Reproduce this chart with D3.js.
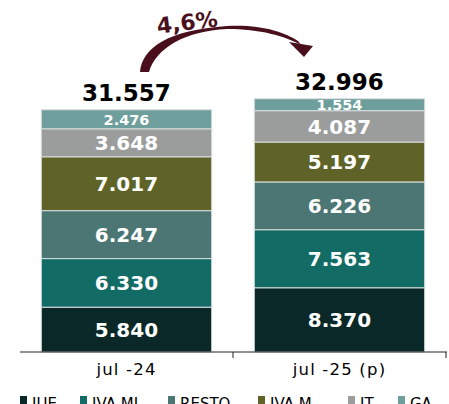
<!DOCTYPE html>
<html><head><meta charset="utf-8">
<script src="https://cdn.jsdelivr.net/npm/d3@7/dist/d3.min.js"></script>
<style>body{margin:0;background:#fff}svg{display:block}</style>
</head><body>
<svg id="c" width="449" height="404"></svg>
<script>
const categories = ["jul -24", "jul -25 (p)"];
const seriesNames = ["IUE", "IVA MI", "RESTO", "IVA M", "IT", "GA"];
const IUE   = [5840, 8370];
const IVA_MI = [6330, 7563];
const RESTO = [6247, 6226];
const IVA_M = [7017, 5197];
const IT    = [3648, 4087];
const GA    = [2476, 1554];
const totals = [31557, 32996];
const growthLabel = "4,6%";
const colors = ["#0a2828", "#136b66", "#4b7673", "#5f6327", "#9b9d9d", "#6f9f9c"];

const series = [IUE, IVA_MI, RESTO, IVA_M, IT, GA];
const fmt = v => d3.format(",")(v).replace(/,/g, ".");

const svg = d3.select("#c");
const x = d3.scaleBand().domain(categories).range([20, 446]).paddingInner(0.2).paddingOuter(0.1);
const y = d3.scaleLinear().domain([0, 40000]).range([352, 45]);

const rows = categories.map((c, i) => {
  const r = {cat: c};
  seriesNames.forEach((s, k) => r[s] = series[k][i]);
  return r;
});
const stacked = d3.stack().keys(seriesNames)(rows);

const font = "'DejaVu Sans', Verdana, sans-serif";

stacked.forEach((layer, k) => {
  const g = svg.append("g");
  g.selectAll("rect").data(layer).join("rect")
    .attr("x", d => x(d.data.cat))
    .attr("width", x.bandwidth())
    .attr("y", d => y(d[1]))
    .attr("height", d => y(d[0]) - y(d[1]))
    .attr("fill", colors[k])
    .attr("stroke", "#d9dedd").attr("stroke-width", 1);
  g.selectAll("text").data(layer).join("text")
    .attr("x", d => x(d.data.cat) + x.bandwidth() / 2)
    .attr("y", d => (y(d[0]) + y(d[1])) / 2)
    .attr("dy", "0.36em")
    .attr("text-anchor", "middle")
    .attr("fill", "#fff")
    .attr("font-family", font).attr("font-weight", "bold")
    .attr("font-size", d => (y(d[0]) - y(d[1])) > 25 ? 20 : 14.5)
    .text(d => fmt(d[1] - d[0]));
});

// totals
svg.selectAll(".tot").data(categories).join("text")
  .attr("x", c => x(c) + x.bandwidth() / 2)
  .attr("y", (c, i) => y(totals[i]) - 9)
  .attr("text-anchor", "middle")
  .attr("font-family", font).attr("font-weight", "bold").attr("font-size", 23)
  .attr("fill", "#000")
  .text((c, i) => fmt(totals[i]));

// axis
const axisY = y(0);
svg.append("line").attr("x1", 20).attr("x2", 447).attr("y1", axisY).attr("y2", axisY)
  .attr("stroke", "#222").attr("stroke-width", 1);
const step = x.step();
[x(categories[0]) - x.paddingOuter()*step + step, 446].forEach(t => {
  svg.append("line").attr("x1", t).attr("x2", t).attr("y1", axisY).attr("y2", axisY + 6)
    .attr("stroke", "#222");
});
svg.selectAll(".xl").data(categories).join("text")
  .attr("x", c => x(c) + x.bandwidth() / 2)
  .attr("y", axisY + 23)
  .attr("text-anchor", "middle")
  .attr("font-family", font).attr("font-size", 16.5).attr("letter-spacing", 1.2).attr("fill", "#000")
  .text(c => c);

// growth arrow
const arrowColor = "#4a0f1c";
svg.append("path")
  .attr("d", "M140,72 C142,48 168,30 227,26 C260,24 285,32 298,41 L301,45 C285,36 260,29 227,29 C185,31 156,48 149,72 Z")
  .attr("fill", arrowColor);
svg.append("path").attr("d", "M289,42 L313,46 L304,57 Z").attr("fill", arrowColor);
svg.append("text")
  .attr("transform", "translate(188,30) rotate(-7)")
  .attr("text-anchor", "middle")
  .attr("font-family", font).attr("font-weight", "bold").attr("font-size", 22)
  .attr("fill", arrowColor)
  .text(growthLabel);

// legend
const legX = [20, 80, 168, 258, 348, 398];
const leg = svg.selectAll(".lg").data(seriesNames).join("g")
  .attr("transform", (d, i) => `translate(${legX[i]},396)`);
leg.append("rect").attr("width", 7).attr("height", 8).attr("fill", (d, i) => colors[i]);
leg.append("text").attr("x", 12).attr("y", 13)
  .attr("font-family", font).attr("font-size", 15).attr("fill", "#000")
  .text(d => d);
</script>
</body></html>
